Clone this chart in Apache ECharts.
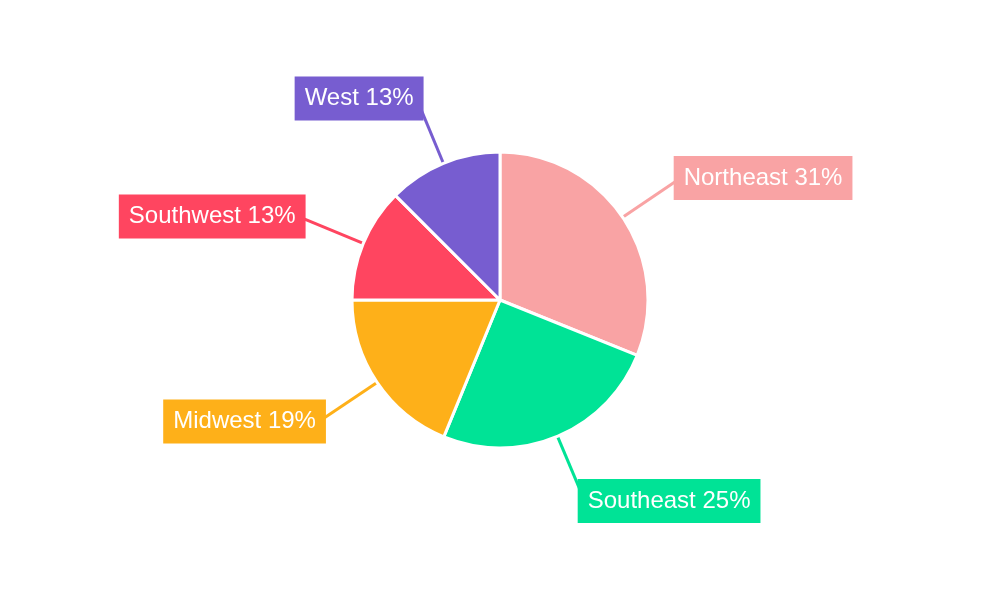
<!DOCTYPE html>
<html>
<head>
<meta charset="utf-8">
<script src="https://cdn.jsdelivr.net/npm/echarts@6/dist/echarts.min.js"></script>
<style>html,body{margin:0;padding:0;background:#fff}#c{width:1000px;height:600px}</style>
</head>
<body>
<div id="c"></div>
<script>
const categories = ['Northeast', 'Southeast', 'Midwest', 'Southwest', 'West'];
const values = [31.1, 25.1, 18.8, 12.5, 12.5];
const colors = ['#f9a3a4', '#00e396', '#feb019', '#ff4560', '#775dd0'];

const chart = echarts.init(document.getElementById('c'));
chart.setOption({
  animation: false,
  series: [{
    type: 'pie',
    center: [500, 300],
    radius: [0, 148],
    startAngle: 90,
    clockwise: true,
    data: categories.map((n, i) => ({
      name: n, value: values[i],
      itemStyle: { color: colors[i] },
      label: { backgroundColor: colors[i] },
      labelLine: { lineStyle: { color: colors[i] } }
    })),
    itemStyle: { borderColor: '#fff', borderWidth: 3 },
    label: {
      show: true,
      formatter: p => p.name + ' ' + Math.round(p.percent) + '%',
      color: '#fff',
      fontFamily: 'Liberation Sans, Arial, sans-serif',
      fontSize: 24,
      lineHeight: 24,
      padding: [10, 10],
      distanceToLabelLine: -7
    },
    labelLine: { show: true, length: 70, length2: 0, smooth: false, lineStyle: { width: 3 } },
    emphasis: { disabled: true }
  }]
});
</script>
</body>
</html>
